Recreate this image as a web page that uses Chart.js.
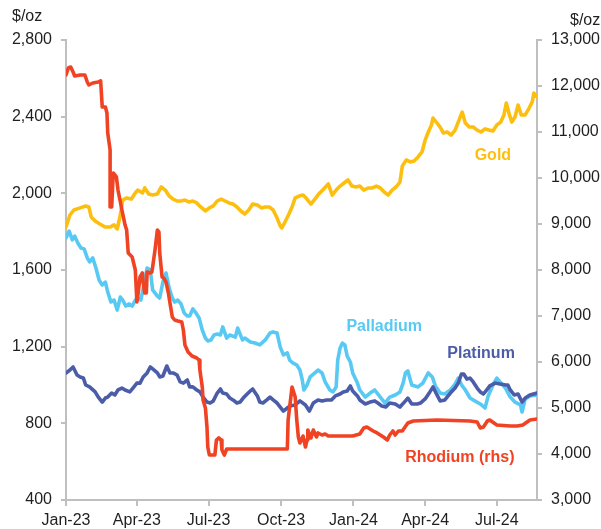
<!DOCTYPE html>
<html>
<head>
<meta charset="utf-8">
<script src="https://cdn.jsdelivr.net/npm/chart.js@4.4.1/dist/chart.umd.min.js"></script>
<style>
  html, body { margin: 0; padding: 0; background: #ffffff; }
  #wrap { width: 601px; height: 529px; }
</style>
</head>
<body>
<div id="wrap"><canvas id="pgmChart" width="601" height="529"></canvas></div>
<script>
// x values are days since 1 Jan 2023
const tickDays = [0, 90, 181, 273, 365, 456, 547];
const tickLabels = ['Jan-23', 'Apr-23', 'Jul-23', 'Oct-23', 'Jan-24', 'Apr-24', 'Jul-24'];
const lastDay = 598;

// Gold, $/oz (lhs)
const goldDay = [0,5,10,18,25,29,32,37,43,50,56,61,65,69,72,77,83,88,91,97,100,105,110,116,121,126,131,136,141,146,151,156,161,166,171,177,182,187,192,197,202,207,212,217,222,227,232,237,243,248,253,258,263,268,272,274,278,283,287,291,296,301,306,311,316,321,326,333,338,343,348,353,358,363,368,373,378,384,389,394,399,404,409,414,419,424,427,432,437,442,447,452,456,460,464,466,471,475,479,484,489,494,498,503,507,512,517,522,527,532,537,542,547,552,556,559,563,566,570,574,578,583,588,592,594,598];
const goldPrice = [1824,1887,1913,1924,1934,1929,1877,1856,1840,1824,1824,1835,1814,1887,1965,1976,1970,2002,2017,2002,2028,1997,1991,1997,2033,2017,1986,1970,1960,1960,1965,1955,1960,1950,1929,1908,1924,1934,1960,1970,1960,1950,1944,1929,1908,1892,1913,1944,1939,1924,1929,1929,1913,1871,1830,1819,1850,1892,1929,1976,1986,1991,1970,1944,1970,1997,2017,2049,1991,2017,2038,2054,2070,2038,2033,2038,2017,2028,2028,2038,2028,2007,1991,2017,2033,2059,2143,2174,2164,2169,2190,2216,2278,2320,2357,2393,2367,2346,2315,2320,2304,2330,2372,2424,2367,2346,2346,2330,2320,2336,2330,2325,2357,2372,2409,2471,2409,2372,2398,2461,2409,2409,2445,2477,2523,2503];

// Palladium, $/oz (lhs)
const palladiumDay = [0,4,8,11,15,19,23,27,30,34,38,42,46,50,53,57,61,65,69,72,76,80,84,88,91,95,99,103,107,110,116,119,123,127,131,135,138,142,146,150,154,157,161,165,169,173,177,180,184,188,192,196,199,204,208,215,218,224,227,234,240,246,253,259,263,268,272,276,281,284,288,293,297,300,302,306,310,316,320,325,329,335,339,343,345,348,351,354,357,361,364,370,373,380,386,392,399,405,411,418,424,428,431,434,439,447,453,460,465,469,475,481,488,494,498,503,507,513,519,526,532,536,542,547,551,558,564,570,577,579,583,589,598];
const palladiumPrice = [1767,1803,1757,1777,1741,1715,1710,1663,1642,1663,1610,1548,1522,1537,1485,1433,1443,1391,1459,1443,1412,1423,1412,1443,1454,1443,1522,1610,1600,1496,1464,1454,1537,1584,1506,1454,1433,1443,1423,1376,1360,1360,1397,1376,1350,1287,1245,1230,1235,1261,1266,1261,1303,1245,1261,1250,1297,1235,1245,1224,1219,1209,1235,1271,1277,1271,1198,1157,1167,1130,1115,1104,1078,1026,974,1000,1042,1063,1078,1063,1016,974,964,990,1130,1193,1219,1209,1151,1120,1063,1010,974,937,958,974,937,906,937,948,964,1010,1063,1073,1000,990,1010,1063,1042,995,958,953,974,1005,1036,995,974,932,917,901,880,943,1000,1036,1016,984,937,911,896,859,927,943,948];

// Platinum, $/oz (lhs)
const platinumDay = [0,5,9,14,18,22,25,30,37,41,46,50,53,58,62,66,71,75,81,85,90,94,98,103,107,110,116,119,123,128,132,136,141,145,149,154,157,161,166,170,174,179,183,187,192,196,199,204,208,212,217,221,225,230,234,237,243,246,250,255,259,263,268,272,276,281,284,291,297,304,309,314,320,325,331,337,342,348,352,357,361,364,370,373,380,386,392,396,401,406,411,418,424,431,434,439,446,450,456,462,466,471,475,481,488,494,498,502,505,509,513,517,522,526,530,535,538,545,551,558,561,564,569,574,579,583,589,598];
const platinumPrice = [1063,1078,1094,1052,1042,1037,1000,990,964,937,911,932,937,958,948,974,984,974,964,984,1010,1010,1042,1063,1094,1084,1063,1042,1047,1099,1063,1063,1052,1016,1010,1026,990,990,974,964,937,911,906,917,958,979,958,953,932,922,906,911,932,953,969,979,943,911,906,922,937,922,906,885,864,880,890,896,917,896,864,906,922,917,922,922,943,953,964,969,995,969,943,922,901,911,917,906,890,885,906,901,885,917,932,901,901,906,927,964,990,948,917,922,958,984,1010,1057,1057,1031,1036,1016,984,964,953,979,995,1010,1005,1000,1000,974,948,953,911,932,948,958];

// Rhodium, $/oz (rhs)
const rhodiumDay = [0,3,6,9,11,18,24,27,29,34,41,44,46,50,52,53,56,56,58,60,64,66,71,75,77,79,84,85,88,90,91,94,97,98,100,102,103,107,109,110,113,116,118,119,122,124,127,130,132,135,138,142,147,149,151,155,160,166,169,170,173,174,177,179,180,182,189,191,194,197,198,201,204,212,281,282,287,291,293,295,297,301,304,306,307,311,314,318,320,325,329,333,364,373,378,382,390,395,403,408,411,415,418,422,427,434,441,471,513,522,526,530,535,538,547,564,573,580,589,598];
const rhodiumPrice = [12239,12391,12413,12304,12217,12239,12239,12087,12022,12065,12087,12109,11543,11543,11413,10978,10609,9370,9370,10109,10022,9739,9304,8978,8870,8370,8283,8283,8000,7304,7413,7848,7935,7717,7500,7500,7957,7935,7957,8065,8435,8870,8826,8370,7848,7826,7739,7500,7283,6978,6913,6891,6870,6696,6370,6217,6130,6087,6043,5826,5457,5174,5000,4587,4152,3978,3978,4304,4348,4304,4087,3978,4109,4109,4109,4739,5457,5239,4739,4370,4239,4391,4152,4304,4522,4348,4522,4370,4457,4413,4435,4391,4391,4435,4565,4587,4500,4457,4370,4304,4413,4500,4413,4500,4500,4674,4717,4739,4717,4696,4565,4587,4717,4739,4630,4609,4609,4630,4739,4761];

const textColor = '#1f1f1f';
const axisColor = '#bfbfbf';
const fontFamily = '"Liberation Sans", Arial, Helvetica, sans-serif';

function pairs(days, prices) {
  return days.map((d, i) => ({ x: d, y: prices[i] }));
}

// in-chart series names, anchored in data units
const seriesTags = [
  { text: 'Gold', day: 542, value: 2195, axis: 'y', color: '#fdbf0f' },
  { text: 'Palladium', day: 404, value: 1303, axis: 'y', color: '#58c9f3' },
  { text: 'Platinum', day: 527, value: 1162, axis: 'y', color: '#4b5ca9' },
  { text: 'Rhodium (rhs)', day: 500, value: 3913, axis: 'y2', color: '#f04323' },
];

const tagPlugin = {
  id: 'tags',
  afterDatasetsDraw(chart) {
    const ctx = chart.ctx;
    const xs = chart.scales.x;
    ctx.save();
    ctx.textAlign = 'center';
    ctx.textBaseline = 'middle';
    ctx.font = 'bold 16px ' + fontFamily;
    seriesTags.forEach(t => {
      ctx.fillStyle = t.color;
      ctx.fillText(t.text, xs.getPixelForValue(t.day), chart.scales[t.axis].getPixelForValue(t.value));
    });
    // units above both value axes
    ctx.font = '16px ' + fontFamily;
    ctx.fillStyle = textColor;
    ctx.textAlign = 'left';
    ctx.fillText('$/oz', 12, 17);
    ctx.fillText('$/oz', 570, 21);
    ctx.restore();
  }
};

function line(label, data, color, axis, order) {
  return {
    label: label,
    data: data,
    yAxisID: axis,
    borderColor: color,
    backgroundColor: color,
    borderWidth: 3.6,
    pointRadius: 0,
    tension: 0,
    borderJoinStyle: 'round',
    borderCapStyle: 'round',
    order: order,
  };
}

const ctx = document.getElementById('pgmChart').getContext('2d');

const chart = new Chart(ctx, {
  type: 'line',
  data: {
    datasets: [
      line('Gold', pairs(goldDay, goldPrice), '#fdbf0f', 'y', 4),
      line('Palladium', pairs(palladiumDay, palladiumPrice), '#58c9f3', 'y', 3),
      line('Platinum', pairs(platinumDay, platinumPrice), '#4b5ca9', 'y', 2),
      line('Rhodium (rhs)', pairs(rhodiumDay, rhodiumPrice), '#f04323', 'y2', 1),
    ]
  },
  plugins: [tagPlugin],
  options: {
    responsive: false,
    animation: false,
    devicePixelRatio: 1,
    layout: { padding: { top: 40, left: 0, right: 0, bottom: 0 } },
    plugins: {
      legend: { display: false },
      tooltip: { enabled: false },
    },
    scales: {
      x: {
        type: 'linear',
        position: 'bottom',
        min: 0,
        max: lastDay,
        afterBuildTicks: s => { s.ticks = tickDays.map(v => ({ value: v })); },
        afterFit: s => { s.height = 29; },
        ticks: {
          callback: (v, i) => tickLabels[i],
          autoSkip: false,
          maxRotation: 0,
          padding: 5,
          color: textColor,
          font: { size: 16, family: fontFamily },
        },
        grid: { drawOnChartArea: false, tickLength: 6, color: axisColor, lineWidth: 2 },
        border: { color: axisColor, width: 2 },
      },
      y: {
        position: 'left',
        min: 400,
        max: 2800,
        afterFit: s => { s.width = 66; },
        ticks: {
          stepSize: 400,
          callback: v => v.toLocaleString('en-US'),
          padding: 9,
          color: textColor,
          font: { size: 16, family: fontFamily },
        },
        grid: { drawOnChartArea: false, tickLength: 5, color: axisColor, lineWidth: 2 },
        border: { color: axisColor, width: 2 },
      },
      y2: {
        position: 'right',
        min: 3000,
        max: 13000,
        afterFit: s => { s.width = 64; },
        ticks: {
          stepSize: 1000,
          callback: v => v.toLocaleString('en-US'),
          padding: 9,
          color: textColor,
          font: { size: 16, family: fontFamily },
        },
        grid: { drawOnChartArea: false, tickLength: 5, color: axisColor, lineWidth: 2 },
        border: { color: axisColor, width: 2 },
      },
    }
  }
});
</script>
</body>
</html>
